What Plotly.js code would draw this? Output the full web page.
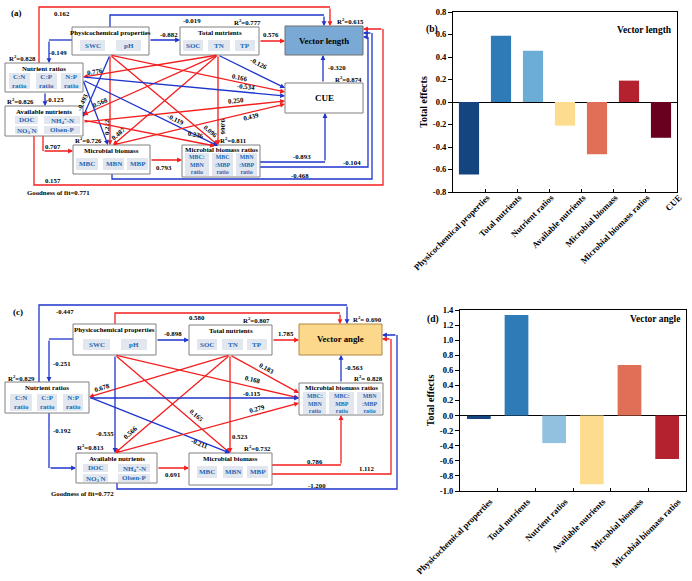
<!DOCTYPE html>
<html><head><meta charset="utf-8">
<script src="https://cdn.plot.ly/plotly-3.0.1.min.js"></script>
<style>html,body{margin:0;padding:0;background:#fff}#chart{width:692px;height:581px}</style>
</head><body><div id="chart"></div>
<script>
// ---------- DATA ----------
const catsB = ['Physicochemical properties','Total nutrients','Nutrient ratios','Available nutrients','Microbial biomass','Microbial biomass ratios','CUE'];
const effectsB = [-0.645, 0.590, 0.455, -0.210, -0.465, 0.190, -0.318];
const colorsB = ['#15457f','#2f7bb8','#6badd5','#fedc8f','#df6f57','#b4212f','#690020'];
const catsD = ['Physicochemical properties','Total nutrients','Nutrient ratios','Available nutrients','Microbial biomass','Microbial biomass ratios'];
const effectsD = [-0.045, 1.335, -0.365, -0.910, 0.670, -0.575];
const colorsD = ['#15457f','#2f7bb8','#92c1e0','#fedc8f','#df6f57','#b4212f'];
const tickValsB = [-0.8,-0.6,-0.4,-0.2,0,0.2,0.4,0.6,0.8];
const tickTextB = ['-0.8','-0.6','-0.4','-0.2','0.0','0.2','0.4','0.6','0.8'];
const tickValsD = [-1.0,-0.8,-0.6,-0.4,-0.2,0,0.2,0.4,0.6,0.8,1.0,1.2,1.4];
const tickTextD = ['-1.0','-0.8','-0.6','-0.4','-0.2','0.0','0.2','0.4','0.6','0.8','1.0','1.2','1.4'];
// path coefficients, diagram (a)
const coefA = [0.162,-0.019,-0.149,-0.882,0.576,-0.320,-0.125,0.707,0.793,-0.893,-0.104,-0.468,0.157,
               -0.493,0.222,0.096,0.166,0.776,0.568,0.487,0.066,-0.126,-0.222,-0.119,-0.534,0.236,0.250,0.439];
const r2A = ['0.828','0.826','0.726','0.777','0.615','0.874','0.811'];
const gofA = '0.771';
// path coefficients, diagram (c)
const coefC = [-0.447,0.580,-0.251,-0.898,1.785,-0.563,-0.192,0.691,0.786,1.112,-1.200,
               0.678,-0.535,0.566,0.165,-0.211,0.523,0.183,0.168,-0.115,0.279];
const r2C = ['0.829','0.813','0.807','0.690','0.828','0.732'];
const gofC = '0.772';

// ---------- DIAGRAM HELPERS ----------
const RED = '#f41e1e', BLUE = '#1f35cc';
const shapes = [], ann = [];
const X = 'x3', Y = 'y3';
function rect(x0,x1,y0,y1,fill,line,lw){
  shapes.push({type:'rect',xref:X,yref:Y,x0,x1,y0,y1,fillcolor:fill,line:{color:line,width:lw},layer:'above'});
}
function txt(x,y,t,size,color,opts){
  ann.push(Object.assign({x,y,xref:X,yref:Y,text:t,showarrow:false,font:{size:size||7,color:color||'#000'},xanchor:'center',yanchor:'middle'},opts||{}));
}
function box(b,title,fill,border,ty){
  rect(b[0],b[1],b[2],b[3],fill||'#fff',border||'#808080',1);
  if(title) txt((b[0]+b[1])/2,b[2]+(ty||5.5),'<b>'+title+'</b>',6.9);
}
function sub(x0,x1,y0,y1,t,size){
  rect(x0,x1,y0,y1,'#e2e6ee','rgba(0,0,0,0)',0);
  txt((x0+x1)/2,(y0+y1)/2,'<b>'+t+'</b>',size||7,'#2367b5');
}
function fmt(v){return v.toFixed(3);}
function edge(pts,v,lab){
  const c = v>0?RED:BLUE, n = pts.length;
  if(n>2){
    let p='M'+pts[0][0]+','+pts[0][1];
    for(let i=1;i<n-1;i++) p+=' L'+pts[i][0]+','+pts[i][1];
    shapes.push({type:'path',xref:X,yref:Y,path:p,line:{color:c,width:1.3},layer:'above'});
  }
  ann.push({x:pts[n-1][0],y:pts[n-1][1],ax:pts[n-2][0],ay:pts[n-2][1],xref:X,yref:Y,axref:X,ayref:Y,
    text:'',showarrow:true,arrowhead:2,arrowsize:0.75,arrowwidth:1.3,arrowcolor:c,standoff:0,startstandoff:0});
  if(lab) txt(lab[0],lab[1],'<b>'+fmt(v)+'</b>',6.8,'#000',{textangle:lab[2]||0});
}
function R2(x,y,v){txt(x,y,'<b>R<sup>2</sup>='+v+'</b>',6.8);}

// ---------- DIAGRAM (a) ----------
txt(16,13,'<b>(a)</b>',9);
const A_PHY=[72,149,27,55], A_TN=[180,259,27,55], A_VL=[285,363,26,55], A_CUE=[285,363,83,113],
      A_NR=[5,83,63,92], A_AN=[5,83,106,136], A_MB=[73,150,145,174], A_MBR=[182,260,145,177];
const edgesA = [
 [[[39,63],[39,7],[330,7],[330,26]],[62,13]],
 [[[110,27],[110,15],[324,15],[324,26]],[192,20]],
 [[[72,40],[49,40],[49,63]],[58,52]],
 [[[149,40],[180,40]],[169,34]],
 [[[259,41],[285,41]],[271,34]],
 [[[323,83],[323,55]],[337,67]],
 [[[45,92],[45,106]],[55,99]],
 [[[43,136],[43,151],[73,151]],[53,146]],
 [[[150,160],[182,160]],[164,167]],
 [[[260,162],[325,162],[325,113]],[302,156]],
 [[[260,167],[368,167],[368,37],[363,37]],[352,162]],
 [[[112,174],[112,179],[372,179],[372,33],[363,33]],[300,175]],
 [[[34,136],[34,185],[383,185],[383,29],[363,29]],[53,180]],
 [[[110,55],[83,117]],[82,102,-66]],
 [[[110,55],[110,145]],[106,127,-90]],
 [[[110,55],[218,145]],[211,131,40]],
 [[[110,55],[285,92]],[240,77,12]],
 [[[218,55],[83,77]],[95,71,-9]],
 [[[218,55],[83,115]],[100,102,-24]],
 [[[218,55],[113,145]],[118,133,-40]],
 [[[218,55],[218,145]],[224,127,90]],
 [[[218,55],[285,88]],[259,63,27]],
 [[[83,80],[108,145]],null],
 [[[83,80],[218,146]],[176,119,26]],
 [[[83,77],[285,96]],[246,86,5]],
 [[[83,120],[215,146]],[196,134,11]],
 [[[83,122],[285,101]],[236,100,-6]],
 [[[113,145],[285,104]],[251,116,-13]]
];
edgesA.forEach((e,i)=>edge(e[0],coefA[i],e[1]));
box(A_PHY,'Physicochemical properties'); sub(80,105,40,51,'SWC'); sub(116,141,40,51,'pH');
box(A_TN,'Total nutrients'); sub(183,203,40,51,'SOC'); sub(208,230,40,51,'TN'); sub(235,255,40,51,'TP');
box(A_VL,null,'#7aa9d5','#707070'); txt(324,41,'<b>Vector length</b>',8.8);
box(A_CUE,null); txt(324,98,'<b>CUE</b>',9);
box(A_NR,'Nutrient ratios'); sub(9,30,73,89,'C:N<br>ratio'); sub(36,57,73,89,'C:P<br>ratio'); sub(61,81,73,89,'N:P<br>ratio');
box(A_AN,'Available nutrients'); sub(15,38,116,124,'DOC'); sub(44,80,116,124,'NH<sub>4</sub><sup>+</sup>-N');
sub(15,38,126,134,'NO<sub>3</sub><sup>-</sup>N'); sub(44,80,126,134,'Olsen-P');
box(A_MB,'Microbial biomass'); sub(76,98,158,170,'MBC'); sub(103,124,158,170,'MBN'); sub(127,148,158,170,'MBP');
box(A_MBR,'Microbial biomass ratios',null,null,4); sub(185,209,153,176,'MBC:<br>MBN<br>ratio',5.9); sub(212,233,153,176,'MBC<br>:MBP<br>ratio',5.9); sub(236,257,153,176,'MBN<br>:MBP<br>ratio',5.9);
R2(22,58,r2A[0]); R2(20,101,r2A[1]); R2(88,140,r2A[2]); R2(247,22,r2A[3]); R2(350,21,r2A[4]); R2(348,79,r2A[5]); R2(233,140,r2A[6]);
txt(58,192,'<b>Goodness of fit='+gofA+'</b>',6.8);

// ---------- DIAGRAM (c) ----------
txt(18,312,'<b>(c)</b>',9);
const C_PHY=[73,156,324,355], C_TN=[189,272,325,355], C_VA=[299,382,324,355], C_MBR=[299,383,383,415],
      C_NR=[5,89,382,413], C_AN=[76,157,453,483], C_MB=[189,272,453,485];
const edgesC = [
 [[[39,382],[39,305],[347,305],[347,324]],[65,311]],
 [[[115,324],[115,313],[340,313],[340,324]],[197,317]],
 [[[73,339],[49,339],[49,382]],[62,363]],
 [[[156,340],[189,340]],[173,333]],
 [[[272,340],[299,340]],[286,333]],
 [[[341,383],[341,355]],[354,367]],
 [[[49,413],[49,468],[76,468]],[62,430]],
 [[[157,468],[189,468]],[173,474]],
 [[[272,465],[341,465],[341,415]],[315,461]],
 [[[272,474],[391,474],[391,339],[382,339]],[367,468]],
 [[[117,483],[117,489],[397,489],[397,335],[382,335]],[317,485]],
 [[[230,355],[89,397]],[102,387,-17]],
 [[[115,355],[115,453]],[105,433]],
 [[[230,355],[115,453]],[130,432,-42]],
 [[[115,355],[230,453]],[197,415,40]],
 [[[89,397],[230,453]],[200,443,22]],
 [[[230,355],[230,453]],[240,436]],
 [[[230,355],[299,393]],[267,368,29]],
 [[[115,355],[299,398]],[253,379,13]],
 [[[89,398],[299,398]],[252,393]],
 [[[115,453],[299,403]],[257,408,-15]]
];
edgesC.forEach((e,i)=>edge(e[0],coefC[i],e[1]));
box(C_PHY,'Physicochemical properties'); sub(83,110,339,350,'SWC'); sub(121,147,339,350,'pH');
box(C_TN,'Total nutrients'); sub(197,217,339,350,'SOC'); sub(222,243,339,350,'TN'); sub(247,267,339,350,'TP');
box(C_VA,null,'#fcd88c','#b08840'); txt(340,339,'<b>Vector angle</b>',8.8);
box(C_MBR,'Microbial biomass ratios',null,null,4.5); sub(303,326,392,414,'MBC:<br>MBN<br>ratio',5.9); sub(329,354,392,414,'MBC:<br>MBP<br>ratio',5.9); sub(357,381,392,414,'MBN<br>:MBP<br>ratio',5.9);
box(C_NR,'Nutrient ratios'); sub(10,32,394,411,'C:N<br>ratio'); sub(37,57,394,411,'C:P<br>ratio'); sub(63,83,394,411,'N:P<br>ratio');
box(C_AN,'Available nutrients'); sub(83,108,464,472,'DOC'); sub(118,150,464,472,'NH<sub>4</sub><sup>+</sup>-N');
sub(83,108,474,482,'NO<sub>3</sub><sup>-</sup>N'); sub(118,150,474,482,'Olsen-P');
box(C_MB,'Microbial biomass'); sub(197,217,466,478,'MBC'); sub(223,243,466,478,'MBN'); sub(247,268,466,478,'MBP');
R2(21,378,r2C[0]); R2(90,447,r2C[1]); R2(256,320,r2C[2]); txt(367,319,'<b>R<sup>2</sup>= '+r2C[3]+'</b>',6.8);
txt(368,378,'<b>R<sup>2</sup>= '+r2C[4]+'</b>',6.8); R2(257,448,r2C[5]);
txt(82,493,'<b>Goodness of fit='+gofC+'</b>',6.8);

// ---------- BAR PANELS ----------
const W=692,H=581;
ann.push({xref:'paper',yref:'paper',x:432/W,y:1-22/H,text:'<b>(b)</b>',showarrow:false,font:{size:9.5}});
ann.push({xref:'paper',yref:'paper',x:433/W,y:1-319/H,text:'<b>(d)</b>',showarrow:false,font:{size:9.5}});
ann.push({xref:'paper',yref:'paper',x:674/W,y:1-23/H,xanchor:'right',text:'<b>Vector length</b>',showarrow:false,font:{size:9.5}});
ann.push({xref:'paper',yref:'paper',x:682/W,y:1-319/H,xanchor:'right',text:'<b>Vector angle</b>',showarrow:false,font:{size:9.5}});

const traces = [
 {type:'bar',x:catsB,y:effectsB,marker:{color:colorsB},xaxis:'x',yaxis:'y',hoverinfo:'skip'},
 {type:'bar',x:catsD,y:effectsD,marker:{color:colorsD},xaxis:'x2',yaxis:'y2',hoverinfo:'skip'},
 {type:'scatter',x:[],y:[],xaxis:'x3',yaxis:'y3',hoverinfo:'skip'}
];
const xBase = {type:'category',tickangle:-45,tickson:'boundaries',ticks:'inside',ticklen:3,showline:true,mirror:true,
  linecolor:'#000',linewidth:1,tickcolor:'#000',tickfont:{size:8.8},showgrid:false,fixedrange:true};
const yBase = {ticks:'outside',ticklen:4,tickcolor:'#000',showline:true,mirror:true,linecolor:'#000',linewidth:1,
  showgrid:false,zeroline:true,zerolinecolor:'#000',zerolinewidth:1,tickfont:{size:8.5},fixedrange:true};
const layout = {
  width:W,height:H,margin:{l:0,r:0,t:0,b:0},paper_bgcolor:'#fff',plot_bgcolor:'rgba(0,0,0,0)',showlegend:false,
  font:{family:'Liberation Serif, Times New Roman, serif',color:'#000'},bargap:0.37,
  xaxis:Object.assign({},xBase,{domain:[453/W,677/W],anchor:'y',tickvals:catsB,ticktext:catsB.map(c=>'<b>'+c+'</b>'),
    ticklabelshift:18,ticklabelstandoff:-4}),
  yaxis:Object.assign({},yBase,{domain:[1-192/H,1-12/H],anchor:'x',range:[-0.8,0.8],tickvals:tickValsB,ticktext:tickTextB.map(t=>'<b>'+t+'</b>'),
    title:{text:'<b>Total effects</b>',font:{size:10},standoff:3}}),
  xaxis2:Object.assign({},xBase,{domain:[460/W,686/W],anchor:'y2',tickvals:catsD,ticktext:catsD.map(c=>'<b>'+c+'</b>'),
    ticklabelshift:11,ticklabelstandoff:1}),
  yaxis2:Object.assign({},yBase,{domain:[1-491/H,1-310/H],anchor:'x2',range:[-1.0,1.4],tickvals:tickValsD,ticktext:tickTextD.map(t=>'<b>'+t+'</b>'),
    title:{text:'<b>Total effects</b>',font:{size:10},standoff:3}}),
  xaxis3:{domain:[0,1],range:[0,W],visible:false,anchor:'y3',fixedrange:true},
  yaxis3:{domain:[0,1],range:[H,0],visible:false,anchor:'x3',fixedrange:true},
  shapes:shapes,annotations:ann
};
Plotly.newPlot('chart',traces,layout,{staticPlot:true,displayModeBar:false});
</script></body></html>
